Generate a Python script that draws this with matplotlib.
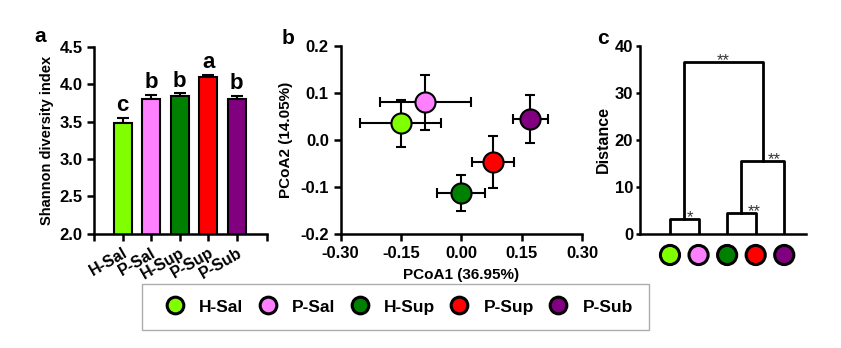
import numpy as np
import matplotlib
matplotlib.use('Agg')
import matplotlib.pyplot as plt
from matplotlib.lines import Line2D

plt.rcParams['font.family'] = ['Liberation Sans', 'DejaVu Sans']
plt.rcParams['font.weight'] = 'bold'
plt.rcParams['axes.linewidth'] = 1.8

# groups and colours
groups = ['H-Sal', 'P-Sal', 'H-Sup', 'P-Sup', 'P-Sub']
colors = ['#80FF00', '#FF80FF', '#008000', '#FF0000', '#800080']

# a: Shannon diversity
shannon = [3.48, 3.81, 3.85, 4.10, 3.80]
shannon_err = [0.07, 0.05, 0.03, 0.03, 0.05]
letters = ['c', 'b', 'b', 'a', 'b']

# b: PCoA centroids
pc1 = [-0.151, -0.089, 0.000, 0.079, 0.172]
pc2 = [0.035, 0.080, -0.113, -0.047, 0.045]
pc1_err = [0.100, 0.114, 0.060, 0.052, 0.043]
pc2_err = [0.050, 0.058, 0.039, 0.055, 0.051]

# c: dendrogram merge heights
h_sal_psal = 3.2
h_sup_psup = 4.5
h_sup_sub = 15.5
h_top = 36.5

W, H = 841, 348
fig = plt.figure(figsize=(W / 100, H / 100), dpi=100)


def style(ax):
    for s in ['top', 'right']:
        ax.spines[s].set_visible(False)
    ax.tick_params(width=1.8, length=5, labelsize=12, direction='out')
    for lab in ax.get_xticklabels() + ax.get_yticklabels():
        lab.set_fontweight('bold')


def panel_label(px, py, s):
    fig.text(px / W, 1 - py / H, s, ha='center', va='center', fontsize=15, fontweight='bold')


# ---- panel a ----
ax1 = fig.add_axes([0.112, 0.328, 0.205, 0.537])
x = np.arange(len(groups))
ax1.bar(x, shannon, width=0.62, color=colors, edgecolor='black', linewidth=1.5, zorder=2)
ax1.errorbar(x, shannon, yerr=[np.zeros(5), shannon_err], fmt='none', ecolor='black',
             elinewidth=1.5, capsize=4, capthick=1.5, zorder=1)
for xi, v, e, l in zip(x, shannon, shannon_err, letters):
    ax1.text(xi, v + e + 0.02, l, ha='center', va='bottom', fontsize=16, fontweight='bold')
ax1.set_ylim(2.0, 4.5)
ax1.set_yticks([2.0, 2.5, 3.0, 3.5, 4.0, 4.5])
ax1.set_xlim(-1.0, 5.05)
ax1.set_xticks(x)
ax1.set_xticks([-1.0, 5.05], minor=True)
ax1.tick_params(axis='x', which='minor', length=5, width=1.8)
ax1.set_xticklabels(groups, rotation=30, ha='right', rotation_mode='anchor')
ax1.set_ylabel('Shannon diversity index', fontsize=10.5, fontweight='bold', labelpad=4)
style(ax1)
ax1.tick_params(axis='x', labelsize=11.5, pad=3)
panel_label(40, 37, 'a')

# ---- panel b ----
ax2 = fig.add_axes([0.405, 0.328, 0.287, 0.54])
for i in range(5):
    ax2.errorbar(pc1[i], pc2[i], xerr=pc1_err[i], yerr=pc2_err[i], fmt='none',
                 ecolor='black', elinewidth=1.5, capsize=3.5, capthick=1.5, zorder=2)
    ax2.scatter(pc1[i], pc2[i], s=210, color=colors[i], edgecolor='black',
                linewidth=1.5, zorder=3)
ax2.set_xlim(-0.30, 0.30)
ax2.set_ylim(-0.2, 0.2)
ax2.set_xticks([-0.30, -0.15, 0.00, 0.15, 0.30])
ax2.set_xticklabels(['-0.30', '-0.15', '0.00', '0.15', '0.30'])
ax2.set_yticks([-0.2, -0.1, 0.0, 0.1, 0.2])
ax2.set_yticklabels(['-0.2', '-0.1', '0.0', '0.1', '0.2'])
ax2.set_xlabel('PCoA1 (36.95%)', fontsize=11, fontweight='bold', labelpad=5)
ax2.set_ylabel('PCoA2 (14.05%)', fontsize=11, fontweight='bold', labelpad=5)
style(ax2)
panel_label(288, 38, 'b')

# ---- panel c ----
ax3 = fig.add_axes([0.761, 0.328, 0.197, 0.54])
leaf = np.arange(5)
lw = 2.0
# H-Sal / P-Sal
ax3.plot([leaf[0], leaf[0], leaf[1], leaf[1]], [0, h_sal_psal, h_sal_psal, 0], color='black', lw=lw)
# H-Sup / P-Sup, then joined by P-Sub
ax3.plot([leaf[2], leaf[2], leaf[3], leaf[3]], [0, h_sup_psup, h_sup_psup, 0], color='black', lw=lw)
m23 = (leaf[2] + leaf[3]) / 2
ax3.plot([m23, m23, leaf[4], leaf[4]], [h_sup_psup, h_sup_sub, h_sup_sub, 0], color='black', lw=lw)
m01 = (leaf[0] + leaf[1]) / 2
m234 = (m23 + leaf[4]) / 2
ax3.plot([m01, m01, m234, m234], [h_sal_psal, h_top, h_top, h_sup_sub], color='black', lw=lw)
star_kw = dict(ha='center', va='bottom', fontsize=12, fontweight='normal', color='#333333')
ax3.text(m01 + 0.2, h_sal_psal - 1.3, '*', **star_kw)
ax3.text(m23 + 0.45, h_sup_psup - 1.3, '**', **star_kw)
ax3.text(m234 + 0.4, h_sup_sub - 1.3, '**', **star_kw)
ax3.text((m01 + m234) / 2, h_top - 1.3, '**', **star_kw)
ax3.scatter(leaf, [-4.5] * 5, s=190, color=colors, edgecolor='black', linewidth=2.2,
            clip_on=False, zorder=3)
ax3.set_xlim(-1.05, 4.75)
ax3.set_ylim(0, 40)
ax3.set_yticks([0, 10, 20, 30, 40])
ax3.set_xticks([])
ax3.set_ylabel('Distance', fontsize=11.5, fontweight='bold', labelpad=3)
style(ax3)
ax3.tick_params(axis='y', length=3, pad=2)
panel_label(603, 38, 'c')

# ---- shared legend ----
handles = [Line2D([], [], marker='o', ls='none', markersize=12, markerfacecolor=c,
                  markeredgecolor='black', markeredgewidth=2.2) for c in colors]
leg = fig.legend(handles, groups, loc='center', bbox_to_anchor=(0.470, 0.118), ncol=5,
                 frameon=True, fancybox=False, edgecolor='#999999',
                 handletextpad=0.4, columnspacing=0.4, borderpad=0.9,
                 prop={'weight': 'bold', 'size': 12.5})
leg.get_frame().set_linewidth(1.0)

fig.savefig('out.png', dpi=100)
